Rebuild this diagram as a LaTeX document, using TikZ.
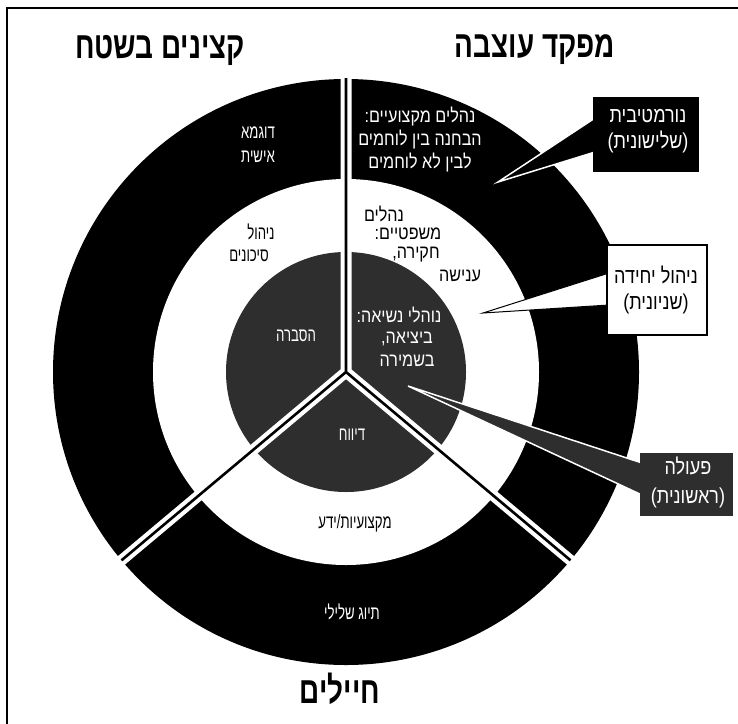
\documentclass[tikz,border=0pt]{standalone}
\usepackage{graphicx}
\usepackage{fontspec}
\newfontfamily\heb[Script=Hebrew]{Liberation Sans}
\TeXXeTstate=1
\newcommand{\Rb}[1]{\scalebox{0.95}[1.12]{\beginR #1\endR}}
\newcommand{\Rs}[1]{\scalebox{0.88}[1.28]{\beginR #1\endR}}
\newcommand{\Rc}[1]{\scalebox{1.0}[1.2]{\beginR #1\endR}}
\newcommand{\Rt}[1]{\scalebox{0.93}[1.25]{\beginR #1\endR}}
\definecolor{texgray}{RGB}{46,46,46}
\tikzset{
  txt/.style={font=\heb\fontsize{17}{23}\selectfont, inner sep=0pt, align=center},
  wtxt/.style={txt, text=white},
  stxt/.style={font=\heb\fontsize{15}{24}\selectfont, inner sep=0pt, align=center},
  swtxt/.style={stxt, text=white},
  ctxt/.style={font=\heb\fontsize{18}{26}\selectfont, inner sep=0pt, align=center},
  ttl/.style={font=\heb\bfseries\fontsize{30}{34}\selectfont, inner sep=0pt},
  sepband/.style={white, line width=11pt, line cap=round, line join=round},
  sepline/.style={black, line width=2.6pt, line join=miter},
}
\begin{document}
\begin{tikzpicture}[x=1pt,y=-1pt]
\useasboundingbox (0,0) rectangle (738,723);
\fill[white] (0,0) rectangle (738,723);
\draw[line width=2pt] (7,740) -- (7,8) -- (745,8);

\coordinate (C) at (346,372);
\coordinate (T) at (346,78);
\coordinate (L) at (121.5,560.3);
\coordinate (Rt) at (570.5,560.3);

% rings
\fill[black] (C) circle[radius=293pt];
\fill[white] (C) circle[radius=193pt];
\fill[texgray] (C) circle[radius=120pt];

% separators
\draw[sepband] (T) -- (C) -- (L) (C) -- (Rt);
\draw[sepline] (T) -- (C) -- (L) (C) -- (Rt);

% callout 1 (normative)
\filldraw[fill=black, draw=white, line width=1.5pt] (595,118) -- (498,182) -- (595,152);
\node[fill=black, minimum width=106pt, minimum height=75pt, inner sep=0pt] (box1) at (646,134.5) {};
\node[ctxt, text=white] (n1) at (648,131) {\Rc{נורמטיבית}\\\Rc{(שלישונית)}};

% callout 2 (unit management)
\filldraw[fill=white, draw=black, line width=1pt] (609,273) -- (483,313) -- (609,305);
\node[draw=black, fill=white, line width=1.5pt, minimum width=100pt, minimum height=90pt, inner sep=0pt] (box2) at (657,290) {};
\node[ctxt] (n2) at (656,290) {\Rc{ניהול יחידה}\\\Rc{(שניונית)}};

% callout 3 (action)
\filldraw[fill=texgray, draw=white, line width=1.5pt] (642,463) -- (408,386) -- (642,495);
\node[fill=texgray, minimum width=93pt, minimum height=63pt, inner sep=0pt] (box3) at (686.5,484.5) {};
\node[ctxt, text=white, font=\heb\fontsize{18}{29}\selectfont] (n3) at (688,482) {\Rc{פעולה}\\\Rc{(ראשונית)}};

% titles
\node[ttl] (h1) at (535,50) {\Rt{מפקד עוצבה}};
\node[ttl] (h2) at (160,50) {\Rt{קצינים בשטח}};
\node[ttl] (h3) at (340,689) {\Rt{חיילים}};

% left sector
\node[swtxt] (a1) at (258,145) {\Rs{דוגמא}\\\Rs{אישית}};
\node[stxt] (a2) at (261,232) {\Rs{ניהול}};
\node[stxt] (a3) at (249,256) {\Rs{סיכונים}};
\node[swtxt] (a4) at (296,336) {\Rs{הסברה}};

% right sector
\node[wtxt] (b1) at (420,140) {\Rb{נהלים מקצועיים:}\\\Rb{הבחנה בין לוחמים}\\\Rb{לבין לא לוחמים}};
\node[txt] (b2) at (384,214) {\Rb{נהלים}};
\node[txt] (b3) at (408,234) {\Rb{משפטיים:}};
\node[txt] (b4) at (416,255) {\Rb{חקירה,}};
\node[txt] (b5) at (460,276) {\Rb{ענישה}};
\node[wtxt] (b6) at (399,315) {\Rb{נוהלי נשיאה:}};
\node[wtxt] (b7) at (407,349) {\Rb{ביציאה,}\\\Rb{בשמירה}};

% bottom sector
\node[swtxt] (c1) at (352,435) {\Rs{דיווח}};
\node[stxt] (c2) at (355,523) {\Rs{מקצועיות/ידע}};
\node[swtxt] (c3) at (352,612) {\Rs{תיוג שלילי}};
\end{tikzpicture}
\end{document}
